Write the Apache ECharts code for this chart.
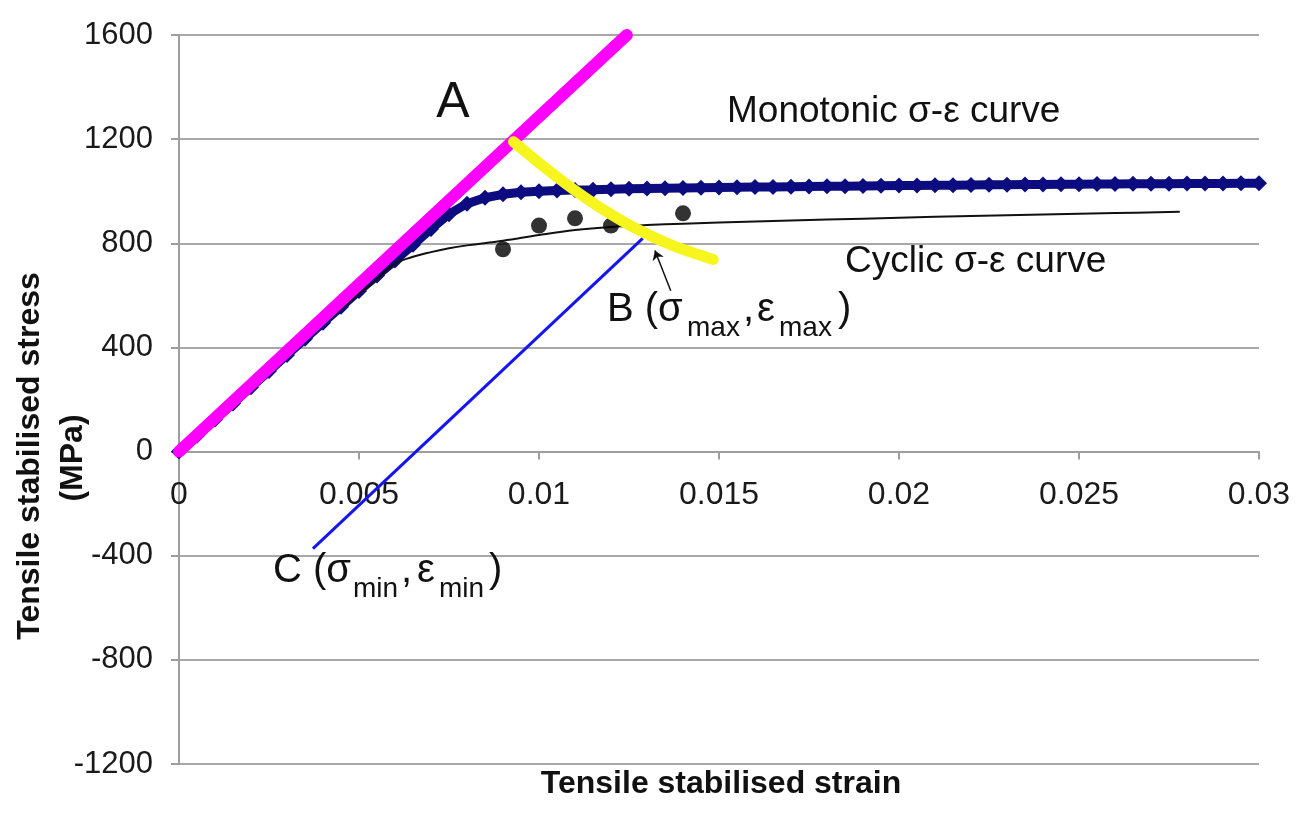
<!DOCTYPE html>
<html><head><meta charset="utf-8">
<script src="https://cdn.jsdelivr.net/npm/echarts/dist/echarts.min.js"></script>
<style>html,body{margin:0;padding:0;background:#fff}#c{width:1298px;height:814px}</style>
</head><body><div id="c"></div>
<script>
// ---- data ----
const xTickLabels = ['0', '0.005', '0.01', '0.015', '0.02', '0.025', '0.03'];
const yTickValues = [-1200, -800, -400, 0, 400, 800, 1200, 1600];

// Monotonic sigma-epsilon curve (strain, stress MPa)
const monoCurve = [
  [0,0],[0.0005,61],[0.001,123],[0.0015,185],[0.002,247],[0.0025,309],[0.003,371],[0.0035,433],
  [0.004,495],[0.0045,556],[0.005,617],[0.0055,676],[0.006,734],[0.0065,794],[0.007,855],[0.0075,912],
  [0.008,952],[0.0085,975],[0.009,988],[0.0095,996],[0.01,1000],[0.0105,1003],[0.011,1005],[0.0115,1006],
  [0.012,1008],[0.0125,1009],[0.013,1010],[0.0135,1011],[0.014,1012],[0.0145,1013],[0.015,1014],[0.0155,1015],
  [0.016,1016],[0.0165,1016],[0.017,1017],[0.0175,1018],[0.018,1019],[0.0185,1019],[0.019,1020],[0.0195,1021],
  [0.02,1022],[0.0205,1022],[0.021,1023],[0.0215,1023],[0.022,1024],[0.0225,1025],[0.023,1025],[0.0235,1026],
  [0.024,1026],[0.0245,1027],[0.025,1027],[0.0255,1028],[0.026,1028],[0.0265,1029],[0.027,1029],[0.0275,1029],
  [0.028,1030],[0.0285,1030],[0.029,1030],[0.0295,1031],[0.03,1031]
];
// Cyclic sigma-epsilon curve
const cyclicCurve = [
  [0,0],[0.001,122],[0.002,244],[0.003,366],[0.004,488],[0.0045,548],[0.005,606],[0.0055,662],
  [0.006,722],[0.0065,748],[0.007,766],[0.0075,781],[0.008,792],[0.009,810],[0.01,832],[0.011,851],
  [0.012,863],[0.013,870],[0.014,875],[0.016,884],[0.018,891],[0.02,898],[0.022,905],[0.024,911],
  [0.026,916],[0.0278,921]
];
// Measured cyclic points
const cyclicPoints = [[0.009,777],[0.01,868],[0.011,896],[0.012,868],[0.014,915]];
// Elastic line (A)
const elasticLineA = [[0,0],[0.01244,1600]];
// Yellow curve through B
const yellowCurve = [[0.00929,1190],[0.0101,1098],[0.01095,1008],[0.0118,928],[0.01271,855],[0.0137,792],[0.01484,738]];
// Blue unloading line C -> B
const unloadLineC = [[0.00372,-373],[0.01288,819]];
// Arrow pointing to B (tail, head)
const arrowB = [[0.01366,618],[0.01322,772]];

// ---- chart ----
const FF = '"Liberation Sans", Arial, sans-serif';
const chart = echarts.init(document.getElementById('c'), null, {renderer:'canvas'});

function txt(text, x, y, size, extra) {
  return {
    type: 'text', x: x, y: y, silent: true, z: 100,
    style: Object.assign({
      text: text, fontSize: size, fontFamily: FF, fill: '#111',
      align: 'left', verticalAlign: 'middle'
    }, extra || {})
  };
}

const gray = '#9e9e9e';
const yMin = yTickValues[0], yMax = yTickValues[yTickValues.length - 1];
const gridTop = 35, gridBottom = 50, chartH = 814;
const plotH = chartH - gridTop - gridBottom;
const zeroOffset = -plotH * (0 - yMin) / (yMax - yMin);

const option = {
  animation: false,
  backgroundColor: '#fff',
  grid: {left: 179, right: 39, top: gridTop, bottom: gridBottom, containLabel: false},
  xAxis: {
    type: 'value', min: 0, max: 0.03, interval: 0.005, position: 'bottom', offset: zeroOffset,
    axisLine: {show: true, onZero: false, lineStyle: {color: gray, width: 2}},
    axisTick: {show: true, length: 8, lineStyle: {color: gray, width: 2}},
    splitLine: {show: false},
    axisLabel: {
      margin: 28, fontSize: 32, fontFamily: FF, color: '#1a1a1a',
      formatter: function (v) { return xTickLabels[Math.round(v / 0.005)]; }
    }
  },
  yAxis: {
    type: 'value', min: yMin, max: yMax, interval: 400,
    axisLine: {show: true, onZero: false, lineStyle: {color: gray, width: 2}},
    axisTick: {show: true, length: 8, lineStyle: {color: gray, width: 2}},
    splitLine: {show: true, lineStyle: {color: '#a8a8a8', width: 2}},
    axisLabel: {margin: 26, fontSize: 31, fontFamily: FF, color: '#1a1a1a',
      formatter: function (v) { return String(v); }}
  },
  series: [
    {
      name: 'Monotonic', type: 'line', data: monoCurve, z: 2,
      symbol: 'diamond', symbolSize: 16, showSymbol: true,
      itemStyle: {color: '#0c0c80'},
      lineStyle: {color: '#0c0c80', width: 9}
    },
    {
      name: 'Cyclic', type: 'line', data: cyclicCurve, z: 3, smooth: 0.4,
      symbol: 'none', lineStyle: {color: '#111', width: 2}
    },
    {
      name: 'Points', type: 'scatter', data: cyclicPoints, z: 4,
      symbol: 'circle', symbolSize: 16, itemStyle: {color: '#000'}
    },
    {
      name: 'C', type: 'line', data: unloadLineC, z: 4,
      symbol: 'none', lineStyle: {color: '#1515f0', width: 3}
    },
    {
      name: 'A', type: 'line', data: elasticLineA, z: 5,
      symbol: 'none', lineStyle: {color: '#ff00ff', width: 12, cap: 'round'}
    },
    {
      name: 'B', type: 'line', data: yellowCurve, z: 6, smooth: 0.3,
      symbol: 'none', lineStyle: {color: '#f6f61e', width: 11, cap: 'round'}
    },
    {
      name: 'arrow', type: 'line', data: [], z: 8,
      markLine: {
        silent: true, symbol: ['none', 'arrow'], symbolSize: 9,
        label: {show: false},
        lineStyle: {color: '#111', width: 1.5, type: 'solid'},
        data: [[{coord: arrowB[0]}, {coord: arrowB[1]}]]
      }
    }
  ],
  graphic: [
    txt('A', 453, 103, 50, {align: 'center'}),
    txt('Monotonic σ-ε curve', 727, 112, 37),
    txt('Cyclic σ-ε curve', 845, 262, 37),
    txt('B (σ', 607, 310, 40),
    txt('max', 687, 328, 28),
    txt(',', 743, 310, 40),
    txt('ε', 757, 310, 40),
    txt('max', 779, 328, 28),
    txt(')', 838, 310, 40),
    txt('C (σ', 273, 571, 40),
    txt('min', 353, 589, 28),
    txt(',', 401, 571, 40),
    txt('ε', 417, 571, 40),
    txt('min', 439, 589, 28),
    txt(')', 489, 571, 40),
    {
      type: 'text', x: 30, y: 456, rotation: Math.PI / 2, silent: true,
      style: {text: 'Tensile stabilised stress', fontSize: 32, fontWeight: 'bold', fontFamily: FF,
              fill: '#111', align: 'center', verticalAlign: 'middle'}
    },
    {
      type: 'text', x: 73, y: 458, rotation: Math.PI / 2, silent: true,
      style: {text: '(MPa)', fontSize: 32, fontWeight: 'bold', fontFamily: FF,
              fill: '#111', align: 'center', verticalAlign: 'middle'}
    },
    txt('Tensile stabilised strain', 721, 784, 32, {align: 'center', fontWeight: 'bold'})
  ]
};
chart.setOption(option);
</script></body></html>
